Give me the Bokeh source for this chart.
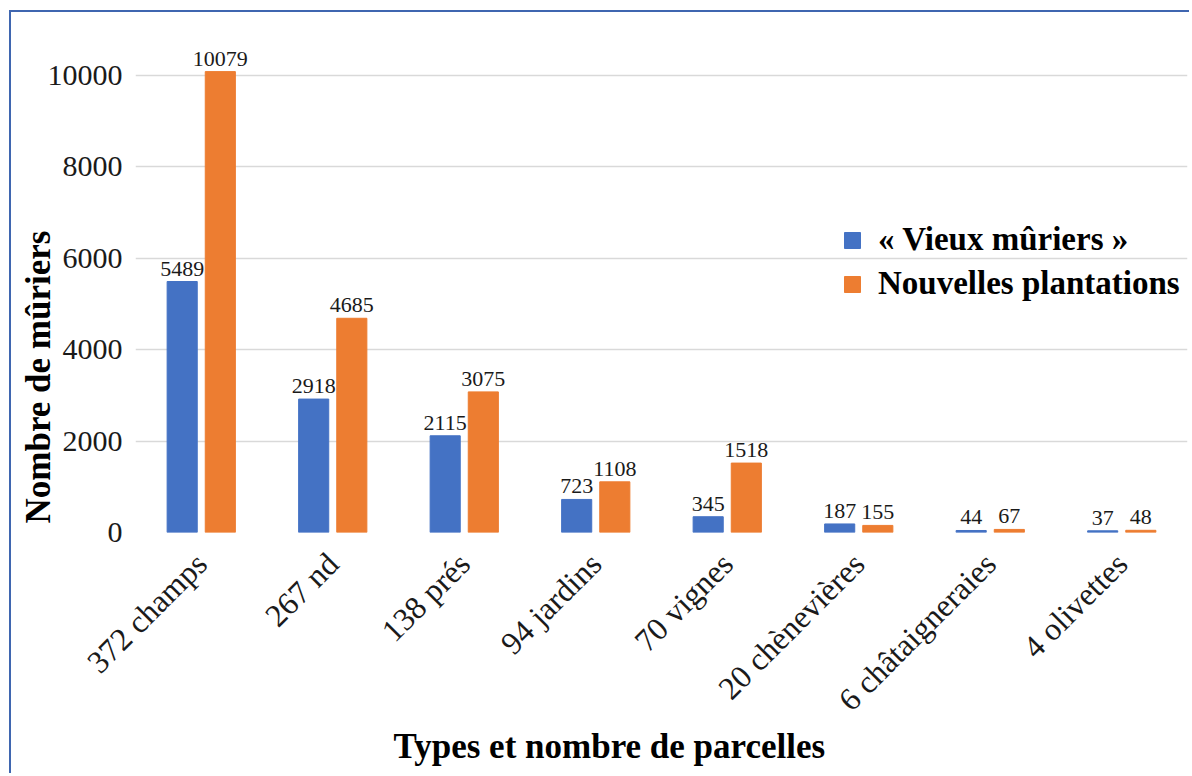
import math
from bokeh.plotting import figure
from bokeh.models import ColumnDataSource, FactorRange, FixedTicker, Legend, LegendItem, Title
from bokeh.transform import dodge
from bokeh.core.properties import value
from bokeh.embed import file_html
from bokeh.resources import INLINE

categories = ["372 champs", "267 nd", "138 prés", "94 jardins", "70 vignes",
              "20 chènevières", "6 châtaigneraies", "4 olivettes"]
vieux = [5489, 2918, 2115, 723, 345, 187, 44, 37]
nouvelles = [10079, 4685, 3075, 1108, 1518, 155, 67, 48]
series_names = ["« Vieux mûriers »", "Nouvelles plantations"]
y_ticks = [0, 2000, 4000, 6000, 8000, 10000]
x_title = "Types et nombre de parcelles"
y_title = "Nombre de mûriers"

BLUE = "#4472C4"
ORANGE = "#ED7D31"
FONT = "Liberation Serif"

src = ColumnDataSource(dict(
    cat=categories,
    vieux=vieux,
    nouvelles=nouvelles,
    vieux_lbl=[str(v) for v in vieux],
    nouvelles_lbl=[str(v) for v in nouvelles],
))

p = figure(x_range=FactorRange(factors=categories, range_padding=0),
           y_range=(0, 11000), width=1180, height=763,
           output_backend="svg", toolbar_location=None,
           min_border_left=124, min_border_right=4,
           min_border_top=17, min_border_bottom=243)

off = 0.145
bw = 0.229
r1 = p.vbar(x=dodge("cat", -off, range=p.x_range), top="vieux", width=bw,
            source=src, fill_color=BLUE, line_color=BLUE)
r2 = p.vbar(x=dodge("cat", off, range=p.x_range), top="nouvelles", width=bw,
            source=src, fill_color=ORANGE, line_color=ORANGE)

for key, dx in (("vieux", -off), ("nouvelles", off)):
    p.text(x=dodge("cat", dx, range=p.x_range), y=key, text=key + "_lbl",
           source=src, text_align="center", text_baseline="bottom", y_offset=-6,
           text_font=value(FONT), text_font_size="22px", text_color="#1a1a1a")

legend = Legend(items=[LegendItem(label=series_names[0], renderers=[r1]),
                       LegendItem(label=series_names[1], renderers=[r2])],
                location=(707, 230), orientation="vertical",
                glyph_width=20, glyph_height=20, label_standoff=16, spacing=7,
                padding=0, margin=0, border_line_color=None,
                background_fill_alpha=0,
                label_text_font=FONT, label_text_font_style="bold",
                label_text_font_size="33px", label_text_color="#000000")
p.add_layout(legend)

p.yaxis.ticker = FixedTicker(ticks=y_ticks)
p.yaxis.axis_line_color = None
p.yaxis.major_tick_line_color = None
p.yaxis.minor_tick_line_color = None
p.yaxis.major_label_standoff = 7
p.yaxis.major_label_text_font = FONT
p.yaxis.major_label_text_font_size = "30px"
p.yaxis.major_label_text_color = "#1a1a1a"

p.xaxis.axis_line_color = None
p.xaxis.major_tick_line_color = None
p.xaxis.minor_tick_line_color = None
p.xaxis.major_label_orientation = math.pi / 4
p.xaxis.major_label_standoff = 20
p.xaxis.major_label_text_font = FONT
p.xaxis.major_label_text_font_size = "32px"
p.xaxis.major_label_text_color = "#1a1a1a"

p.xgrid.grid_line_color = None
p.ygrid.grid_line_color = "#D9D9D9"
p.ygrid.grid_line_width = 1.5
p.outline_line_color = None

p.add_layout(Title(text=y_title, align="left", offset=9, vertical_align="bottom",
                   standoff=-26, text_font=FONT, text_font_style="bold",
                   text_font_size="35px", text_color="#000000"), "left")
p.add_layout(Title(text=x_title, align="left", offset=258, vertical_align="bottom",
                   standoff=-17, text_font=FONT, text_font_style="bold",
                   text_font_size="35px", text_color="#000000"), "below")

p.styles = {"margin-left": "9px", "margin-top": "10px",
            "border-left": "2px solid #3F66B0", "border-top": "2px solid #3F66B0"}

open("out.html", "w").write(file_html(p, INLINE))
